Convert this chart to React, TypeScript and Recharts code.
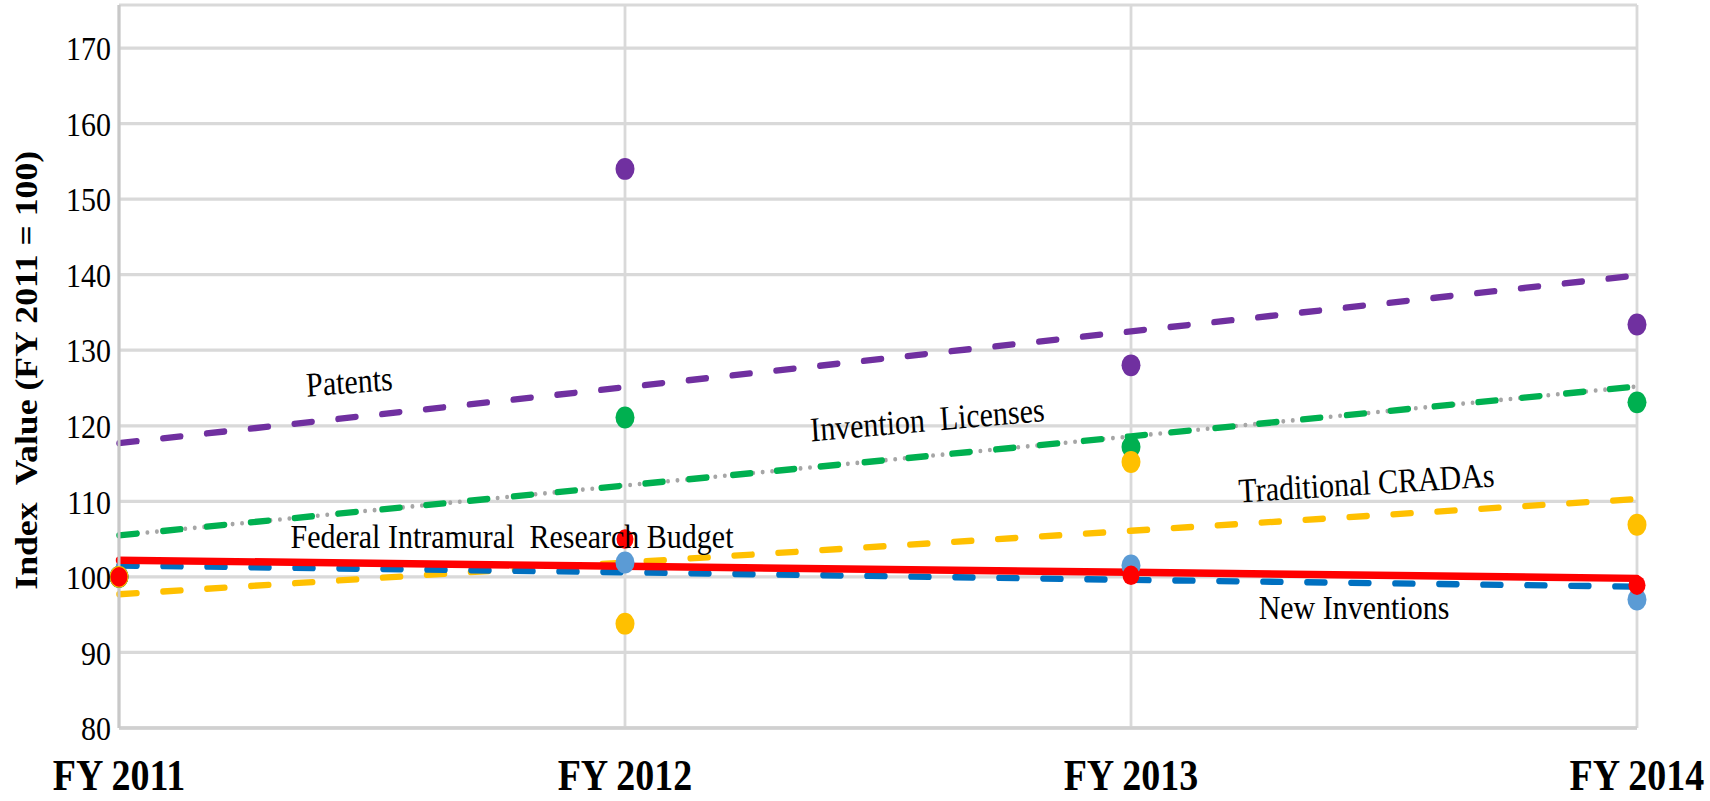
import React from 'react';
import {
  ComposedChart,
  Line,
  XAxis,
  YAxis,
  CartesianGrid
} from 'recharts';

// fiscal years on the x axis
const years = ['FY 2011', 'FY 2012', 'FY 2013', 'FY 2014'];

// index values (FY 2011 = 100)
const patents = [100, 154, 128, 133.4];
const inventionLicenses = [100, 121.1, 117.2, 123.1];
const traditionalCradas = [100, 93.8, 115.2, 106.9];
const newInventions = [100, 101.9, 101.5, 97.0];
const researchBudget = [100, 105, 100.2, 98.9];

// linear trend lines at each year
const patentsTrend = [117.7, 125.1, 132.5, 139.9];
const licensesTrend = [105.5, 112.1, 118.6, 125.2];
const cradasTrend = [97.7, 101.9, 106.1, 110.3];
const newInventionsTrend = [101.5, 100.6, 99.6, 98.7];
const budgetTrend = [102.2, 101.4, 100.6, 99.8];

const yTicks = [80, 90, 100, 110, 120, 130, 140, 150, 160, 170];

const SERIF = '"Liberation Serif", "Times New Roman", serif';

// the original picture is stretched vertically, so draw flat and stretch
const STRETCH = 1.15;
const W = 1710;
const H = 801 / STRETCH;

const data = years.map((year, i) => ({
  year,
  patents: patents[i],
  licenses: inventionLicenses[i],
  cradas: traditionalCradas[i],
  newInv: newInventions[i],
  budget: researchBudget[i],
  patentsTrend: patentsTrend[i],
  licensesTrend: licensesTrend[i],
  cradasTrend: cradasTrend[i],
  newInvTrend: newInventionsTrend[i],
  budgetTrend: budgetTrend[i]
}));

const dash = { strokeWidth: 5.5, strokeDasharray: '18 26', strokeLinecap: 'round' as const };

const dotOnly = (fill: string, r = 9.5) => ({ r, fill, stroke: 'none', strokeWidth: 0 });

export default function App() {
  return (
    <div
      style={{
        position: 'absolute',
        left: 0,
        top: 0,
        width: W,
        height: H,
        background: '#fff',
        transform: `scaleY(${STRETCH})`,
        transformOrigin: '0 0'
      }}
    >
      <ComposedChart
        width={W}
        height={H}
        data={data}
        margin={{ top: 4.35, right: 73, left: 0, bottom: 0 }}
      >
        <CartesianGrid stroke="#D9D9D9" strokeWidth={2.8} />
        <XAxis
          dataKey="year"
          scale="point"
          interval={0}
          height={H - 633}
          tickLine={false}
          tickSize={0}
          tickMargin={27}
          axisLine={{ stroke: '#D0D0D0', strokeWidth: 3 }}
          tick={{ fontSize: 38, fontWeight: 'bold', fill: '#000', fontFamily: SERIF }}
        />
        <YAxis
          type="number"
          domain={[80, 175.7]}
          ticks={yTicks}
          allowDataOverflow
          width={119}
          tickLine={false}
          tickSize={0}
          tickMargin={8}
          axisLine={{ stroke: '#C8C8C8', strokeWidth: 3 }}
          tick={{ fontSize: 30, fill: '#000', fontFamily: SERIF }}
        />

        {/* trend lines */}
        <Line dataKey="licensesTrend" stroke="#A6A6A6" strokeWidth={4} strokeDasharray="0 9.5" strokeLinecap="round" dot={false} activeDot={false} isAnimationActive={false} />
        <Line dataKey="licensesTrend" stroke="#00B050" {...dash} dot={false} activeDot={false} isAnimationActive={false} />
        <Line dataKey="patentsTrend" stroke="#7030A0" {...dash} dot={false} activeDot={false} isAnimationActive={false} />
        <Line dataKey="cradasTrend" stroke="#FFC000" {...dash} dot={false} activeDot={false} isAnimationActive={false} />
        <Line dataKey="newInvTrend" stroke="#0070C0" {...dash} dot={false} activeDot={false} isAnimationActive={false} />

        {/* markers */}
        <Line dataKey="newInv" stroke="none" dot={dotOnly('#5B9BD5')} activeDot={false} isAnimationActive={false} />
        <Line dataKey="patents" stroke="none" dot={dotOnly('#7030A0')} activeDot={false} isAnimationActive={false} />
        <Line dataKey="licenses" stroke="none" dot={dotOnly('#00B050')} activeDot={false} isAnimationActive={false} />
        <Line dataKey="cradas" stroke="none" dot={dotOnly('#FFC000')} activeDot={false} isAnimationActive={false} />

        <Line dataKey="budgetTrend" stroke="#FF0000" strokeWidth={6.5} strokeLinecap="round" dot={false} activeDot={false} isAnimationActive={false} />
        <Line dataKey="budget" stroke="none" dot={dotOnly('#FF0000', 8.5)} activeDot={false} isAnimationActive={false} />
      </ComposedChart>

      <svg
        width={W}
        height={H}
        style={{ position: 'absolute', left: 0, top: 0, pointerEvents: 'none' }}
        fontFamily={SERIF}
      >
        <text
          x={37}
          y={322}
          transform="rotate(-90 37 322)"
          textAnchor="middle"
          fontSize={31}
          fontWeight="bold"
          style={{ whiteSpace: 'pre' }}
        >
          {'Index  Value (FY 2011 = 100)'}
        </text>
        <text x={350} y={342} textAnchor="middle" fontSize={30} transform="rotate(-3.9 350 342)">Patents</text>
        <text x={928} y={375} textAnchor="middle" fontSize={30} transform="rotate(-4.35 928 375)" style={{ whiteSpace: 'pre' }}>
          {'Invention  Licenses'}
        </text>
        <text x={1367} y={430} textAnchor="middle" fontSize={30} transform="rotate(-3.1 1367 430)">Traditional CRADAs</text>
        <text x={512} y={476.5} textAnchor="middle" fontSize={30} style={{ whiteSpace: 'pre' }}>
          {'Federal Intramural  Research Budget'}
        </text>
        <text x={1354} y={538} textAnchor="middle" fontSize={30}>New Inventions</text>
      </svg>
    </div>
  );
}
